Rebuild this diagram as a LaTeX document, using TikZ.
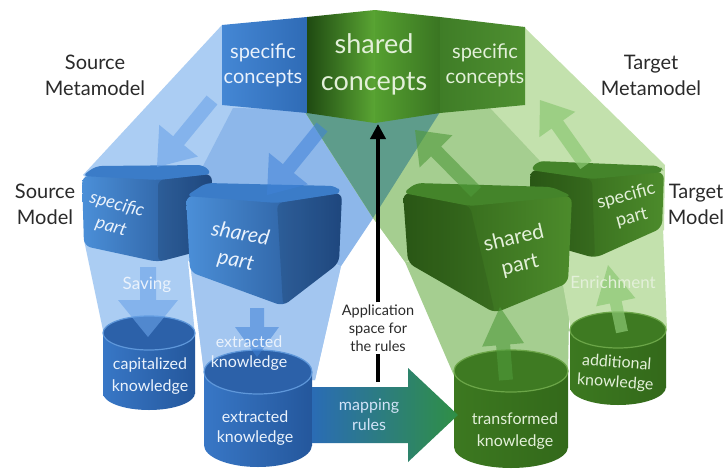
\documentclass[tikz,border=0pt]{standalone}
\usepackage{fontspec}
\setmainfont{Lato}
\usetikzlibrary{calc,arrows.meta}
\definecolor{bluelight}{HTML}{ABCDF3}
\definecolor{bluemid}{HTML}{8DB7EA}
\definecolor{bluelow}{HTML}{A3C6F0}
\definecolor{greenlight}{HTML}{C3E1AD}
\definecolor{greenmid}{HTML}{A5CE90}
\definecolor{overlapteal}{HTML}{5E9C8B}
\definecolor{bluetxt}{HTML}{EAF2FC}
\definecolor{greentxt}{HTML}{E3F0D9}
\definecolor{labeltxt}{HTML}{2A2A2A}
\newcommand{\fatarrow}[6]{%
  \coordinate (faheadbase) at ($(#2)!#5!(#1)$);
  \path[#6] ($(#1)!#3!90:(#2)$) -- ($(faheadbase)!#3!90:(#2)$) -- ($(faheadbase)!#4!90:(#2)$) -- (#2)
    -- ($(faheadbase)!#4!-90:(#2)$) -- ($(faheadbase)!#3!-90:(#2)$) -- ($(#1)!#3!-90:(#2)$) -- cycle;}
\newcommand{\cylinder}[8]{%
  \path[#7] ({#2-#5},#3) rectangle ({#2+#5},#4);
  \path[#7] (#2,#4) ellipse [x radius=#5, y radius=#6];
  \path[#8] (#2,#3) ellipse [x radius=#5, y radius=#6];
  \coordinate (#1) at (#2,#3);}
\definecolor{HTML4B8FD8}{HTML}{4B8FD8}\definecolor{HTML23518F}{HTML}{23518F}
\definecolor{HTML2D5E17}{HTML}{2D5E17}\definecolor{HTML4C8B2B}{HTML}{4C8B2B}
\definecolor{HTML3A79C5}{HTML}{3B7CC8}\definecolor{HTML47862A}{HTML}{44842A}
\definecolor{HTML3877C6}{HTML}{3877C6}\definecolor{HTML4A8CD6}{HTML}{4A8CD6}
\definecolor{HTML24579C}{HTML}{24579C}\definecolor{HTML3C7820}{HTML}{3C7820}
\definecolor{HTML539330}{HTML}{539330}\definecolor{HTML33691A}{HTML}{33691A}
\definecolor{HTML2C61A9}{HTML}{2C61A9}\definecolor{HTML5E97DA}{HTML}{5E97DA}
\definecolor{HTML3E7A22}{HTML}{3E7A22}\definecolor{HTML6BA548}{HTML}{6BA548}
\definecolor{HTML6AA3E8}{HTML}{6AA3E8}\definecolor{HTML3F82D8}{HTML}{3F82D8}
\definecolor{HTML4F9A3A}{HTML}{4F9A3A}\definecolor{HTML8CC874}{HTML}{8CC874}
\definecolor{HTML2A6CB5}{HTML}{2A6CB5}\definecolor{HTML2F8F45}{HTML}{2F8F45}
\definecolor{HTML4487D4}{HTML}{4487D4}\definecolor{HTML2F6BB6}{HTML}{2F6BB6}
\definecolor{HTML1F4A12}{HTML}{1F4A12}\definecolor{HTML5AA533}{HTML}{5AA533}
\definecolor{HTML55A030}{HTML}{55A030}\definecolor{HTML3A7522}{HTML}{3A7522}
\definecolor{HTML3F7D27}{HTML}{3F7D27}\definecolor{HTML4E8F30}{HTML}{4E8F30}
\tikzset{
  lbl/.style={font=\fontsize{20}{26}\selectfont, text=labeltxt, align=center, inner sep=0pt},
  topspec/.style={font=\fontsize{20}{25}\selectfont, align=center, inner sep=0pt},
  cyltxt/.style={font=\fontsize{16}{20}\selectfont, align=center, inner sep=0pt},
  cubetxt/.style={font=\fontsize{21}{27}\selectfont, align=center, inner sep=0pt},
  bluecube/.style={left color=HTML4B8FD8, right color=HTML23518F, rounded corners=7pt},
  greencube/.style={left color=HTML2D5E17, right color=HTML4C8B2B, rounded corners=7pt},
  bluecubetop/.style={fill=HTML3A79C5, rounded corners=6pt},
  greencubetop/.style={fill=HTML47862A, rounded corners=6pt},
  sideshadow/.style={fill=black, fill opacity=0.12, rounded corners=6pt},
  blueside/.style={left color=HTML3877C6, middle color=HTML4A8CD6, right color=HTML24579C},
  greenside/.style={left color=HTML3C7820, middle color=HTML539330, right color=HTML33691A},
  bluetop/.style={fill=HTML2C61A9, draw=HTML5E97DA, line width=1.2pt},
  greentop/.style={fill=HTML3E7A22, draw=HTML6BA548, line width=1.2pt},
  arrblue/.style={fill=HTML6AA3E8, fill opacity=0.6},
  arrbluedark/.style={fill=HTML3F82D8, fill opacity=0.55},
  arrgreen/.style={fill=HTML4F9A3A, fill opacity=0.6},
  arrgreenlight/.style={fill=HTML8CC874, fill opacity=0.7},
  mapshade/.style={left color=HTML2A6CB5, right color=HTML2F8F45},
}
\begin{document}
\begin{tikzpicture}[x=1pt,y=-1pt,line join=round]
\useasboundingbox (0,0) rectangle (726,469);
\fill[white] (0,0) rectangle (726,469);
% translucent projection regions
\fill[bluelight] (222,25) -- (440,112) -- (373,218) -- (341,266) -- (315,380) -- (205,380) -- (190,262) -- (83,175) -- cycle;
\fill[bluemid] (233,108) -- (440,112) -- (373,218) -- (341,266) -- (187,197) -- cycle;
\fill[bluelight] (84,240) -- (186,240) -- (195,335) -- (104,335) -- cycle;
\fill[bluelow] (190,262) -- (341,266) -- (315,380) -- (205,380) -- cycle;
\fill[greenlight] (305,112) -- (525,28) -- (665,165) -- (664,230) -- (570,285) -- (405,262) -- (373,218) -- cycle;
\fill[greenmid] (305,112) -- (490,108) -- (572,195) -- (405,262) -- (373,218) -- cycle;
\fill[greenmid] (405,262) -- (570,262) -- (568,372) -- (455,378) -- cycle;
\fill[greenlight] (555,240) -- (663,228) -- (667,330) -- (571,330) -- cycle;
\fill[overlapteal] (305,112) -- (440,112) -- (373,218) -- cycle;
% cylinders
\cylinder{capcyl}{149}{333}{393}{46}{17}{blueside}{bluetop}
\cylinder{extcyl}{258}{372}{445}{54}{22}{blueside}{bluetop}
\cylinder{tracyl}{511}{371}{447}{57}{21}{greenside}{greentop}
\cylinder{addcyl}{618}{330}{387}{48}{18}{greenside}{greentop}
% source cubes
\path[bluecube] (82,176) -- (84,246) -- (158,262) -- (211,248) -- (212,174) -- cycle;
\path[sideshadow] (158,180) -- (212,174) -- (211,248) -- (158,262) -- cycle;
\path[bluecubetop] (82,176) -- (96,166) -- (204,165) -- (212,174) -- (158,180) -- cycle;
\path[bluecube] (186,196) -- (190,272) -- (283,306) -- (339,263) -- (342,193) -- cycle;
\path[sideshadow] (277,203) -- (342,193) -- (339,263) -- (283,306) -- cycle;
\path[bluecubetop] (186,196) -- (206,183) -- (336,186) -- (342,193) -- (277,203) -- cycle;
% target cubes
\path[greencube] (530,170) -- (532,240) -- (595,258) -- (662,228) -- (664,172) -- cycle;
\path[sideshadow, fill opacity=0.08] (530,170) -- (592,179) -- (595,258) -- (532,240) -- cycle;
\path[greencubetop] (530,170) -- (538,161) -- (660,166) -- (664,172) -- (592,179) -- cycle;
\path[greencube] (403,193) -- (408,263) -- (495,313) -- (568,283) -- (572,196) -- cycle;
\path[sideshadow, fill opacity=0.08] (403,193) -- (470,206) -- (495,313) -- (408,263) -- cycle;
\path[greencubetop] (403,193) -- (416,183) -- (552,187) -- (572,196) -- (470,206) -- cycle;
% top block
\path[left color=HTML4487D4, right color=HTML2F6BB6] (222,25) -- (307,17) -- (307,113) -- (222,105) -- cycle;
\path[left color=HTML1F4A12, right color=HTML5AA533] (307,17) -- (375,10) -- (375,123) -- (307,113) -- cycle;
\path[left color=HTML55A030, right color=HTML3A7522] (375,10) -- (440,17) -- (440,113) -- (375,123) -- cycle;
\path[left color=HTML3F7D27, right color=HTML4E8F30] (440,17) -- (525,27) -- (525,105) -- (440,113) -- cycle;
% translucent arrows
\coordinate (a1s) at (212,100); \coordinate (a1e) at (157,167);
\fatarrow{a1s}{a1e}{7pt}{25pt}{34pt}{arrblue}
\coordinate (a2s) at (322,127); \coordinate (a2e) at (267,195);
\fatarrow{a2s}{a2e}{7pt}{25pt}{34pt}{arrbluedark}
\coordinate (savs) at (148,267); \coordinate (save) at (148,337);
\fatarrow{savs}{save}{8pt}{30pt}{37pt}{arrblue}
\coordinate (exts) at (257,308); \coordinate (exte) at (257,357);
\fatarrow{exts}{exte}{7pt}{22pt}{30pt}{arrbluedark}
\coordinate (g1s) at (506,380); \coordinate (g1e) at (500,307);
\fatarrow{g1s}{g1e}{7pt}{21pt}{38pt}{arrgreen}
\coordinate (ens) at (622,332); \coordinate (ene) at (608,265);
\fatarrow{ens}{ene}{6pt}{20pt}{38pt}{arrgreenlight}
\coordinate (g3s) at (476,192); \coordinate (g3e) at (415,130);
\fatarrow{g3s}{g3e}{7pt}{23pt}{30pt}{arrgreen}
\coordinate (g4s) at (586,165); \coordinate (g4e) at (540,100);
\fatarrow{g4s}{g4e}{7pt}{22pt}{30pt}{arrgreenlight}
% mapping rules arrow
\coordinate (maps) at (312,415); \coordinate (mape) at (458,415);
\fatarrow{maps}{mape}{28pt}{47pt}{50pt}{mapshade}
% texts in top block
\node[topspec, text=bluetxt] (tsc) at (263,65) {specific\\concepts};
\node[font=\fontsize{27}{37}\selectfont, align=center, inner sep=0pt, text=greentxt] (tsh) at (374,64) {shared\\concepts};
\node[topspec, text=greentxt] (tsc2) at (485,65) {specific\\concepts};
% labels
\node[lbl] (srcmm) at (95,75) {Source\\Metamodel};
\node[lbl] (tgtmm) at (651,75) {Target\\Metamodel};
\node[lbl] (srcm) at (45,204) {Source\\Model};
\node[lbl] (tgtm) at (696,204) {Target\\Model};
% cube texts
\node[font=\itshape\fontsize{18}{23}\selectfont, align=center, inner sep=0pt, text=bluetxt, rotate=-15] (sspec) at (114,216) {specific\\part};
\node[cubetxt, font=\itshape\fontsize{21}{27}\selectfont, text=bluetxt, rotate=-10] (sshared) at (238,248) {shared\\part};
\node[cubetxt, text=greentxt, rotate=13] (tshared) at (517,252) {shared\\part};
\node[font=\fontsize{18}{22}\selectfont, align=center, inner sep=0pt, text=greentxt, rotate=15] (tspec) at (629,207) {specific\\part};
% arrow labels
\node[font=\fontsize{17}{20}\selectfont, text=bluetxt, inner sep=0pt] (saving) at (147,285) {Saving};
\node[font=\fontsize{17}{20}\selectfont, text=greentxt, inner sep=0pt] (enrich) at (613,282) {Enrichment};
\node[cyltxt, text=bluetxt] (extup) at (249,353) {extracted\\knowledge};
% cylinder texts
\node[cyltxt, font=\fontsize{16}{22}\selectfont, text=bluetxt] (captxt) at (150,376) {capitalized\\knowledge};
\node[cyltxt, text=bluetxt] (exttxt) at (255,428) {extracted\\knowledge};
\node[cyltxt, font=\fontsize{16}{22}\selectfont, text=greentxt] (tratxt) at (515,431) {transformed\\knowledge};
\node[cyltxt, text=greentxt, rotate=-4] (addtxt) at (616,373) {additional\\knowledge};
\node[cyltxt, text=HTML6AA3E8!30!white] (maptxt) at (369,415) {mapping\\rules};
% application space and black arrow
\node[font=\fontsize{14.5}{18}\selectfont, align=center, text=labeltxt, inner sep=2pt] (app) at (378,328) {Application\\space for\\the rules};
\coordinate (blkbase) at (378,382);
\coordinate (blktip) at (378,124);
\draw[line width=4pt] (blkbase) -- (app.south);
\draw[line width=4pt, -{Triangle[length=15pt,width=15pt]}] (app.north) -- (blktip);
\end{tikzpicture}
\end{document}
